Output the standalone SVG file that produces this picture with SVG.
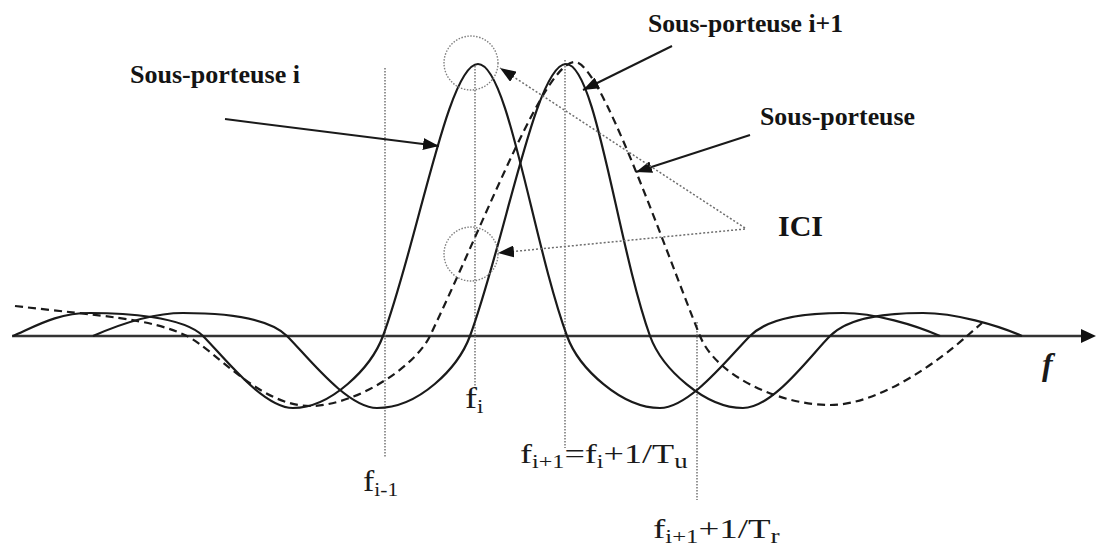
<svg xmlns="http://www.w3.org/2000/svg" width="1098" height="550" viewBox="0 0 1098 550">
  <style>
    .curve { fill: none; stroke: #1a1a1a; stroke-width: 2.2; stroke-linejoin: round; }
    .dashed { stroke-dasharray: 8 5; }
    .guide { fill: none; stroke: #6a6a6a; stroke-width: 1.4; stroke-dasharray: 1.5 1.5; }
    .ring { fill: none; stroke: #808080; stroke-width: 1.4; stroke-dasharray: 1.5 1.5; }
    .arrow { fill: none; stroke: #1a1a1a; stroke-width: 2; }
    .ici { fill: none; stroke: #6e6e6e; stroke-width: 1.5; stroke-dasharray: 2 2; }
    .lbl { font-family: "Liberation Serif", "Times New Roman", serif; font-weight: bold; fill: #141414; }
    .math { font-family: "Liberation Serif", "Times New Roman", serif; fill: #1a1a1a; }
  </style>
  <defs>
    <marker id="head" markerUnits="userSpaceOnUse" markerWidth="17" markerHeight="12" refX="16" refY="6" orient="auto">
      <path d="M0,0 L16,6 L0,12 z" fill="#111"/>
    </marker>
  </defs>
  <rect width="1098" height="550" fill="#ffffff"/>

  <!-- axis -->
  <g id="axis">
    <line x1="12" y1="336" x2="1084" y2="336" stroke="#333" stroke-width="2.5"/>
    <polygon points="1081,329 1096,336 1081,343" fill="#111"/>
    <text class="math" x="1042" y="375" font-size="32" font-style="italic" font-weight="bold">f</text>
  </g>

  <!-- guide lines -->
  <g id="guides">
    <line class="guide" x1="385" y1="68" x2="385" y2="458"/>
    <line class="guide" x1="475" y1="66" x2="475" y2="388"/>
    <line class="guide" x1="565" y1="60" x2="565" y2="448"/>
    <line class="guide" x1="697" y1="322" x2="697" y2="500"/>
  </g>

  <!-- subcarrier curves -->
  <g id="subcarrier-i">
    <path class="curve" d="M13,336 C38,325 58,313 90,313 C123,313 183,316 203,336 C223,356 263,408 293,408 C331,408 371,368 383,336 C418,241 448,64 478,64 C508,64 533,243 567,336 C579,369 622,408 660,408 C690,408 730,356 750,336 C770,316 810,313 843,313 C875,313 915,325 940,336"/>
  </g>
  <g id="subcarrier-i1">
    <path class="curve" d="M93,336 C118,325 151,313 183,313 C216,313 267,316 287,336 C307,356 347,408 377,408 C419,408 458,368 470,336 C505,241 536,64 566,64 C596,64 617,243 650,336 C662,369 705,408 743,408 C773,408 810,356 830,336 C850,316 890,313 923,313 C955,313 997,325 1022,336"/>
  </g>
  <g id="subcarrier-shifted">
    <path class="curve dashed" d="M15,306 C100,316 150,318 187,336 C215,350 260,406 310,406 C355,406 415,367 430,336 C490,210 545,62 575,62 C600,62 660,236 700,336 C716,376 780,405 830,405 C880,405 940,360 967,336 L982,323"/>
  </g>

  <!-- ICI circles -->
  <g id="ici-circles">
    <circle class="ring" cx="471" cy="63" r="27"/>
    <circle class="ring" cx="471" cy="254" r="27"/>
  </g>

  <!-- connectors -->
  <g id="connectors">
    <line class="arrow" x1="225" y1="119" x2="439" y2="146" marker-end="url(#head)"/>
    <line class="arrow" x1="672" y1="46" x2="583" y2="90" marker-end="url(#head)"/>
    <line class="arrow" x1="750" y1="135" x2="636" y2="172" marker-end="url(#head)"/>
    <line class="ici" x1="745" y1="228" x2="500" y2="68" marker-end="url(#head)"/>
    <line class="ici" x1="745" y1="229" x2="498" y2="253" marker-end="url(#head)"/>
  </g>

  <!-- labels -->
  <g id="label-sp-i">
    <text class="lbl" x="130" y="83" font-size="26" textLength="170" lengthAdjust="spacingAndGlyphs">Sous-porteuse i</text>
  </g>
  <g id="label-sp-i1">
    <text class="lbl" x="648" y="32" font-size="26" textLength="195" lengthAdjust="spacingAndGlyphs">Sous-porteuse i+1</text>
  </g>
  <g id="label-sp">
    <text class="lbl" x="760" y="125" font-size="26" textLength="155" lengthAdjust="spacingAndGlyphs">Sous-porteuse</text>
  </g>
  <g id="label-ici">
    <text class="lbl" x="778" y="236" font-size="30" textLength="45" lengthAdjust="spacingAndGlyphs">ICI</text>
  </g>

  <g id="label-fi" transform="translate(465,408) scale(1.2,1)">
    <text class="math" x="0" y="0" font-size="30">f<tspan dy="5" font-size="19">i</tspan></text>
  </g>
  <g id="label-fi-1" transform="translate(363,491) scale(1.13,1)">
    <text class="math" x="0" y="0" font-size="30">f<tspan dy="5" font-size="19">i-1</tspan></text>
  </g>
  <g id="label-fi1" transform="translate(520,463) scale(1.34,1)">
    <text class="math" x="0" y="0" font-size="27">f<tspan dy="5" font-size="18">i+1</tspan><tspan dy="-5">=f</tspan><tspan dy="5" font-size="18">i</tspan><tspan dy="-5">+1/T</tspan><tspan dy="5" font-size="20">u</tspan></text>
  </g>
  <g id="label-fi1-tr" transform="translate(653,538) scale(1.37,1)">
    <text class="math" x="0" y="0" font-size="27">f<tspan dy="5" font-size="18">i+1</tspan><tspan dy="-5">+1/T</tspan><tspan dy="5" font-size="20">r</tspan></text>
  </g>
</svg>
